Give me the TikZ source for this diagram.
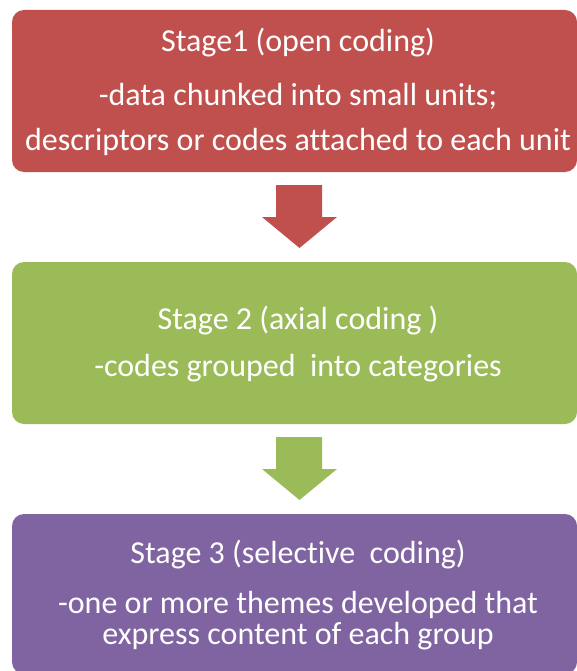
\documentclass[tikz,border=0pt]{standalone}
\usepackage{fontspec}
\setmainfont{Carlito}[Ligatures=NoCommon]
\usetikzlibrary{positioning}
\definecolor{stagered}{HTML}{C0504D}
\definecolor{stagegreen}{HTML}{9BBB59}
\definecolor{stagepurple}{HTML}{8064A2}

\begin{document}
\begin{tikzpicture}[
    x=1pt, y=-1pt,
    stagebox/.style={
        rounded corners=12pt,
        minimum width=565pt,
        inner sep=0pt
    },
    textline/.style={
        text=white,
        anchor=base,
        inner sep=0pt,
        font=\fontsize{32}{34}\selectfont
    }
]
\useasboundingbox (0,0) rectangle (577,671);

% Boxes
\node (open) [stagebox, fill=stagered, minimum height=162pt] at (294.5,91) {};
\node (axial) [stagebox, fill=stagegreen, minimum height=162pt] at (294.5,343) {};
\node (selective) [stagebox, fill=stagepurple, minimum height=160pt] at (294.5,594) {};

% Texts
\node (open1) [textline] at (298,52) {Stage1 (open coding)};
\node (open2) [textline] at (298,106) {-data chunked into small units;};
\node (open3) [textline] at (298,150.5) {descriptors or codes attached to each unit};
\node (axial1) [textline] at (298,329) {Stage 2 (axial coding )};
\node (axial2) [textline] at (298,376) {-codes grouped\ \ into categories};
\node (sel1) [textline] at (298,563) {Stage 3 (selective\ \ coding)};
\node (sel2) [textline] at (298,613) {-one or more themes developed that};
\node (sel3) [textline] at (298,644) {express content of each group};

% Arrows
\foreach \col/\top in {stagered/185, stagegreen/437} {
    \fill[\col] (276,\top) -- (322,\top) -- (322,\top+32) -- (337,\top+32)
        -- (299.5,\top+63) -- (262,\top+32) -- (276,\top+32) -- cycle;
}
\end{tikzpicture}
\end{document}
